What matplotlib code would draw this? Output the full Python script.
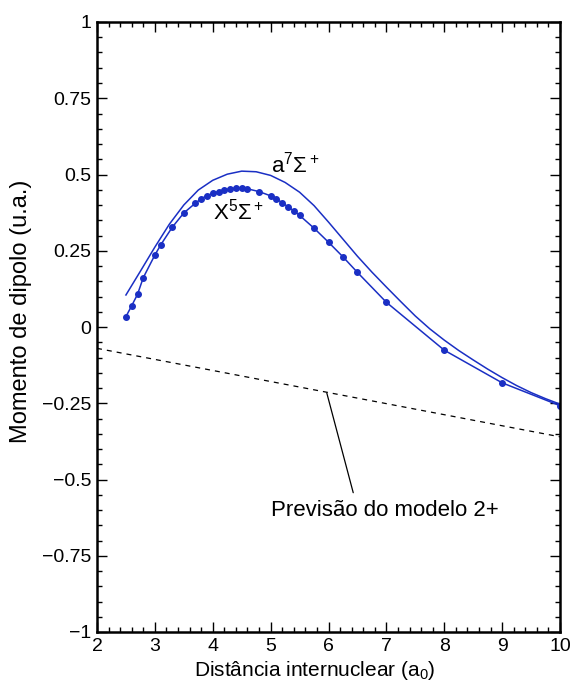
import matplotlib
matplotlib.use("Agg")
import matplotlib.pyplot as plt
from matplotlib.ticker import MultipleLocator

plt.rcParams['font.family'] = ['Liberation Sans', 'DejaVu Sans']
plt.rcParams['mathtext.fontset'] = 'custom'
plt.rcParams['mathtext.rm'] = 'Liberation Sans'
plt.rcParams['mathtext.it'] = 'Liberation Sans:italic'
plt.rcParams['mathtext.bf'] = 'Liberation Sans:bold'

# X5Sigma+ state: computed points
r_x = [2.5, 2.6, 2.7, 2.8, 3.0, 3.1, 3.3, 3.5, 3.7, 3.8, 3.9, 4.0, 4.1, 4.2,
       4.3, 4.4, 4.5, 4.6, 4.8, 5.0, 5.1, 5.2, 5.3, 5.4, 5.5, 5.75, 6.0,
       6.25, 6.5, 7.0, 8.0, 9.0, 10.0]
mu_x = [0.034, 0.070, 0.107, 0.162, 0.236, 0.269, 0.327, 0.374, 0.406, 0.420,
        0.431, 0.438, 0.444, 0.449, 0.453, 0.455, 0.455, 0.453, 0.444, 0.430,
        0.419, 0.408, 0.394, 0.381, 0.366, 0.324, 0.278, 0.230, 0.179, 0.081,
        -0.076, -0.183, -0.258]

# a7Sigma+ state
r_a = [2.5, 2.75, 3.0, 3.25, 3.5, 3.75, 4.0, 4.25, 4.5, 4.75, 5.0, 5.25, 5.5,
       5.75, 6.0, 6.25, 6.5, 6.75, 7.0, 7.25, 7.5, 7.75, 8.0, 8.25, 8.5,
       8.75, 9.0, 9.25, 9.5, 9.75, 10.0]
mu_a = [0.105, 0.183, 0.262, 0.337, 0.400, 0.449, 0.481, 0.501, 0.511, 0.509,
        0.497, 0.474, 0.442, 0.398, 0.344, 0.288, 0.232, 0.180, 0.131, 0.083,
        0.036, -0.006, -0.043, -0.077, -0.108, -0.138, -0.166, -0.192,
        -0.215, -0.235, -0.253]

# Two-charge model prediction
r_model = [2.0, 10.0]
mu_model = [-0.07, -0.36]

blue = '#1a2fc4'

fig = plt.figure(figsize=(5.74, 6.87), dpi=100)
ax = fig.add_axes([97 / 574, 1 - 632 / 687, (560 - 97) / 574, (632 - 22) / 687])

ax.plot(r_a, mu_a, color=blue, lw=1.1)
ax.plot(r_x, mu_x, color=blue, lw=1.1, marker='o', ms=4.0)
ax.plot(r_model, mu_model, color='black', lw=0.9, dashes=(4, 4))

ax.text(5.0, 0.508, r'a$^7\Sigma^+$', fontsize=16, ha='left', va='baseline')
ax.text(4.0, 0.351, r'X$^5\Sigma^+$', fontsize=16, ha='left', va='baseline')

ax.annotate('Previsão do modelo 2+', xy=(5.97, -0.216), xytext=(6.97, -0.60),
            fontsize=16, ha='center', va='center',
            arrowprops=dict(arrowstyle='-', color='black', lw=0.9,
                            shrinkA=3, shrinkB=0, relpos=(0.37, 1.0)))

ax.set_xlim(2, 10)
ax.set_ylim(-1, 1)
ax.xaxis.set_major_locator(MultipleLocator(1))
ax.xaxis.set_minor_locator(MultipleLocator(0.2))
ax.yaxis.set_minor_locator(MultipleLocator(0.05))
ax.set_yticks([1, 0.75, 0.5, 0.25, 0, -0.25, -0.5, -0.75, -1])
ax.set_yticklabels(['1', '0.75', '0.5', '0.25', '0', '\u22120.25', '\u22120.5',
                    '\u22120.75', '\u22121'])

ax.tick_params(which='both', direction='in', top=True, right=True,
               labelsize=14, width=1.0, color='black')
ax.tick_params(which='major', length=7, pad=4)
ax.tick_params(which='minor', length=3.5)
for s in ax.spines.values():
    s.set_linewidth(1.8)

ax.set_xlabel('Distância internuclear (a$_0$)', fontsize=15)
ax.xaxis.set_label_coords(0.47, -0.045)
ax.set_ylabel('Momento de dipolo (u.a.)', fontsize=17)
ax.yaxis.set_label_coords(-0.14, 0.525)

fig.savefig('out.png', dpi=100)
